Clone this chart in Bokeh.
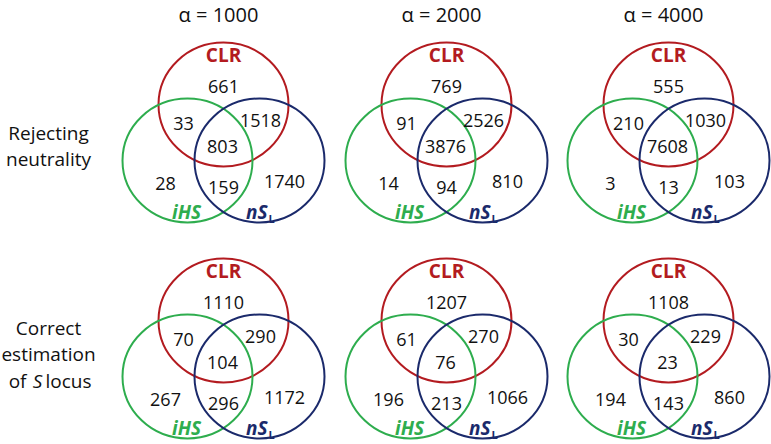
from bokeh.plotting import figure
from bokeh.models import Range1d
from bokeh.core.properties import value
from bokeh.embed import file_html
from bokeh.resources import INLINE

# ---------------- data ----------------
alphas = [1000, 2000, 4000]
row_names = ["Rejecting neutrality", "Correct estimation of S locus"]
set_names = ["CLR", "iHS", "nS"]

reject_clr_only = [661, 769, 555]
reject_clr_ihs = [33, 91, 210]
reject_clr_nsl = [1518, 2526, 1030]
reject_all = [803, 3876, 7608]
reject_ihs_only = [28, 14, 3]
reject_ihs_nsl = [159, 94, 13]
reject_nsl_only = [1740, 810, 103]

correct_clr_only = [1110, 1207, 1108]
correct_clr_ihs = [70, 61, 30]
correct_clr_nsl = [290, 270, 229]
correct_all = [104, 76, 23]
correct_ihs_only = [267, 196, 194]
correct_ihs_nsl = [296, 213, 143]
correct_nsl_only = [1172, 1066, 860]

rows_data = [
    [reject_clr_only, reject_clr_ihs, reject_clr_nsl, reject_all,
     reject_ihs_only, reject_ihs_nsl, reject_nsl_only],
    [correct_clr_only, correct_clr_ihs, correct_clr_nsl, correct_all,
     correct_ihs_only, correct_ihs_nsl, correct_nsl_only],
]

# ---------------- layout / style ----------------
RED = "#B31B20"
GREEN = "#2EAD4E"
BLUE = "#1B2A6B"
FONT = "Open Sans"

panel_x = [223, 446, 668]
panel_y = [104, 320]
circle_off = [(0, 0), (-36, 56), (36, 56)]
circle_col = [RED, GREEN, BLUE]
region_off = [(0, -18), (-40, 19), (37, 16), (-1, 42), (-58, 79), (0, 83), (61, 77)]

W, H = 771, 444
p = figure(width=W, height=H, output_backend="svg", toolbar_location=None,
           x_range=Range1d(0, W), y_range=Range1d(H, 0),
           min_border=0, outline_line_color=None)
p.axis.visible = False
p.grid.visible = False
p.background_fill_color = "white"
p.border_fill_color = "white"

# circles
cx, cy, cc = [], [], []
for r in range(2):
    for c in range(3):
        for (dx, dy), col in zip(circle_off, circle_col):
            cx.append(panel_x[c] + dx)
            cy.append(panel_y[r] + dy)
            cc.append(col)
p.ellipse(x=cx, y=cy, width=130, height=124, fill_alpha=0,
          line_color=cc, line_width=2)

# counts
tx, ty, tt = [], [], []
for r in range(2):
    for c in range(3):
        for k, (dx, dy) in enumerate(region_off):
            tx.append(panel_x[c] + dx)
            ty.append(panel_y[r] + dy)
            tt.append(str(rows_data[r][k][c]))
p.text(x=tx, y=ty, text=tt, text_font=value(FONT), text_font_size="18px",
       text_align="center", text_baseline="middle", text_color="#111111")

# set labels
for r in range(2):
    for c in range(3):
        x0, y0 = panel_x[c], panel_y[r]
        p.text(x=[x0], y=[y0 - 50], text=[set_names[0]], text_font=value(FONT),
               text_font_size="19px", text_font_style="bold", text_color=RED,
               text_align="center", text_baseline="middle")
        p.text(x=[x0 - 37], y=[y0 + 107], text=[set_names[1]], text_font=value(FONT),
               text_font_size="19px", text_font_style="bold italic", text_color=GREEN,
               text_align="center", text_baseline="middle")
        p.text(x=[x0 + 44], y=[y0 + 107], text=[set_names[2]], text_font=value(FONT),
               text_font_size="19px", text_font_style="bold italic", text_color=BLUE,
               text_align="right", text_baseline="middle")
        p.text(x=[x0 + 45], y=[y0 + 114], text=["L"], text_font=value(FONT),
               text_font_size="11px", text_font_style="bold", text_color=BLUE,
               text_align="left", text_baseline="middle")

# column titles
p.text(x=[x - 5 for x in panel_x], y=[14] * 3, text=[f"\u03b1 = {a}" for a in alphas],
       text_font=value(FONT), text_font_size="20px", text_align="center",
       text_baseline="middle", text_color="#111111")

# row labels
p.text(x=[48, 48], y=[132, 158], text=["Rejecting", "neutrality"],
       text_font=value(FONT), text_font_size="19px", text_align="center",
       text_baseline="middle", text_color="#111111")
p.text(x=[48, 48], y=[327, 353], text=["Correct", "estimation"],
       text_font=value(FONT), text_font_size="19px", text_align="center",
       text_baseline="middle", text_color="#111111")
p.text(x=[26], y=[380], text=["of"], text_font=value(FONT), text_font_size="19px",
       text_align="right", text_baseline="middle", text_color="#111111")
p.text(x=[37], y=[380], text=["S"], text_font=value(FONT), text_font_size="19px",
       text_font_style="italic", text_align="center", text_baseline="middle",
       text_color="#111111")
p.text(x=[45], y=[380], text=["locus"], text_font=value(FONT), text_font_size="19px",
       text_align="left", text_baseline="middle", text_color="#111111")

open("out.html", "w").write(file_html(p, INLINE))
